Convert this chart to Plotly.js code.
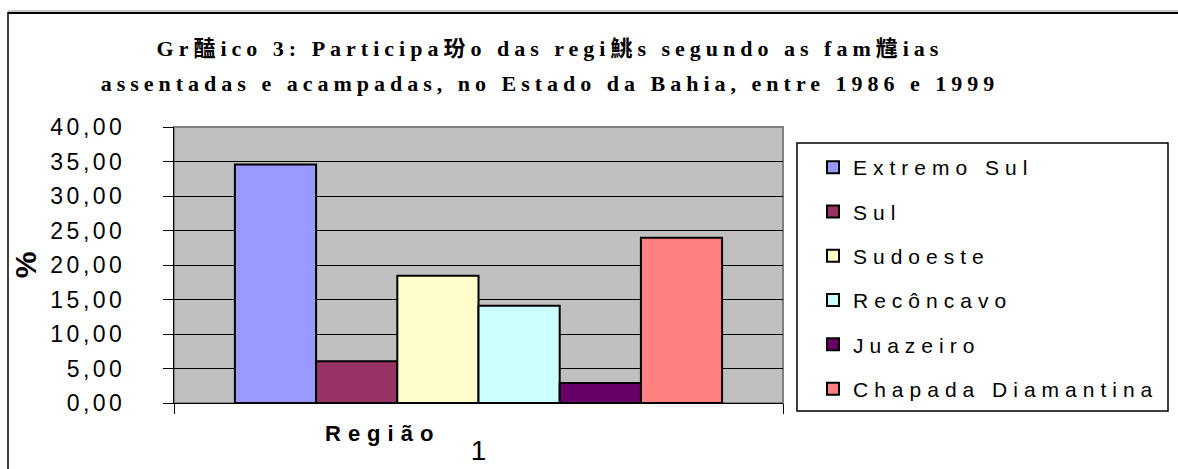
<!DOCTYPE html>
<html>
<head>
<meta charset="utf-8">
<script src="https://cdn.plot.ly/plotly-3.0.1.min.js"></script>
<style>
  html, body { margin: 0; padding: 0; background: #ffffff; }
  #chart { width: 1178px; height: 469px; }
  .ytick text { letter-spacing: 3.5px; }
  .legendtext { letter-spacing: 6px; }
  .gtitle { letter-spacing: 5px; }
  .annotation-text { letter-spacing: 7px; }
</style>
</head>
<body>
<div id="chart"></div>
<script>
// ---- data ----
var categories = ["1"];
var regions = ["Extremo Sul", "Sul", "Sudoeste", "Recôncavo", "Juazeiro", "Chapada Diamantina"];
var values = [34.55, 6.05, 18.45, 14.10, 2.90, 23.95];
var colors = ["#9999FF", "#993366", "#FFFFCC", "#CCFFFF", "#660066", "#FF8080"];
var titleLine1 = "Gr醘ico 3: Participa玢o das regi鮡s segundo as fam韑ias";
var titleLine2 = "assentadas e acampadas, no Estado da Bahia, entre 1986 e 1999";
var yTitle = "%";
var xTitle = "Região";

// plot area in pixels (for converting frame shapes)
var PL = 174, PR = 783, PT = 127, PB = 403;
function px(x) { return (x - PL) / (PR - PL); }
function py(y) { return (PB - y) / (PB - PT); }

var traces = regions.map(function (name, i) {
  return {
    type: "bar",
    name: name,
    x: categories,
    y: [values[i]],
    legendgroup: "g" + i,
    marker: { color: colors[i], line: { color: "#000000", width: 2 } },
    hoverinfo: "name+y"
  };
});

var layout = {
  width: 1178,
  height: 469,
  margin: { l: PL, r: 1178 - PR, t: PT, b: 469 - PB, pad: 0 },
  paper_bgcolor: "#FFFFFF",
  plot_bgcolor: "#C0C0C0",
  separators: ",.",
  barmode: "group",
  bargap: 0.2,
  bargroupgap: 0,
  font: { family: "Liberation Sans, Arial, sans-serif", color: "#000000" },
  title: {
    text: titleLine1 + "<br>" + titleLine2,
    font: { family: "Liberation Serif, 'Noto Sans CJK SC', serif", size: 22, weight: "bold", color: "#000000" },
    xref: "container", x: 550 / 1178, xanchor: "center",
    yref: "container", y: 1 - 56 / 469, yanchor: "top"
  },
  xaxis: {
    type: "category",
    showgrid: false,
    showline: true, linecolor: "#000000", linewidth: 1,
    ticks: "outside", tickson: "boundaries", ticklen: 10, tickcolor: "#000000",
    tickfont: { size: 28, family: "Liberation Sans, Arial, sans-serif" },
    ticklabelstandoff: 22,
    automargin: false,
    fixedrange: true
  },
  yaxis: {
    range: [0, 40],
    dtick: 5,
    tickformat: ".2f",
    showgrid: true, gridcolor: "#000000", gridwidth: 1,
    zeroline: false,
    showline: true, linecolor: "#000000", linewidth: 1,
    ticks: "outside", ticklen: 10, tickcolor: "#000000",
    tickfont: { size: 23, family: "Liberation Sans, Arial, sans-serif" },
    ticklabelstandoff: 33,
    automargin: false,
    title: { text: yTitle, font: { size: 30, weight: "bold" }, standoff: 4 },
    fixedrange: true
  },
  showlegend: true,
  legend: {
    x: px(813), xanchor: "left",
    y: py(147), yanchor: "top",
    bgcolor: "rgba(0,0,0,0)",
    borderwidth: 0,
    tracegroupgap: 14,
    traceorder: "grouped",
    font: { size: 21, family: "Liberation Sans, Arial, sans-serif" }
  },
  annotations: [
    {
      text: xTitle,
      xref: "paper", yref: "paper",
      x: px(382), y: py(433),
      xanchor: "center", yanchor: "middle",
      showarrow: false,
      font: { size: 22, weight: "bold", family: "Liberation Sans, Arial, sans-serif" }
    }
  ],
  shapes: [
    { type: "rect", xref: "paper", yref: "paper", x0: 0, x1: 1, y0: 0, y1: 1,
      line: { color: "#808080", width: 2 }, layer: "below" },
    { type: "rect", xref: "paper", yref: "paper", x0: px(797), x1: px(1168), y0: py(143), y1: py(411),
      line: { color: "#000000", width: 1.5 }, fillcolor: "rgba(0,0,0,0)" },
    { type: "line", xref: "paper", yref: "paper", x0: px(8), x1: px(1200), y0: py(11), y1: py(11),
      line: { color: "#909090", width: 1 } },
    { type: "line", xref: "paper", yref: "paper", x0: px(8), x1: px(1200), y0: py(13), y1: py(13),
      line: { color: "#000000", width: 2 } },
    { type: "line", xref: "paper", yref: "paper", x0: px(8), x1: px(8), y0: py(12), y1: py(480),
      line: { color: "#000000", width: 1.5 } }
  ]
};

Plotly.newPlot("chart", traces, layout, { displayModeBar: false, staticPlot: true }).then(function (gd) {
  // widen the gap between the two title lines, as in the reference
  var lines = gd.querySelectorAll(".gtitle tspan.line");
  for (var i = 1; i < lines.length; i++) { lines[i].setAttribute("dy", "1.6em"); }
});
</script>
</body>
</html>
